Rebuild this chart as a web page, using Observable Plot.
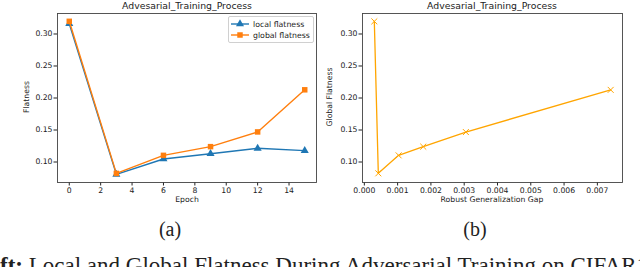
<!DOCTYPE html>
<html>
<head>
<meta charset="utf-8">
<script src="https://cdn.jsdelivr.net/npm/d3@7"></script>
<script src="https://cdn.jsdelivr.net/npm/@observablehq/plot@0.6"></script>
<style>
  html, body { margin: 0; padding: 0; background: #fff; }
  #wrap { position: relative; width: 640px; height: 267px; overflow: hidden; background: #fff; font-family: "DejaVu Sans", sans-serif; color: #222; }
  .abs { position: absolute; white-space: nowrap; line-height: 1; }
  .title { font-size: 9.3px; transform: translateX(-50%); }
  .lab { font-size: 7.7px; transform: translateX(-50%); }
  .ylab { font-size: 7.7px; transform: translate(-50%, -50%) rotate(-90deg); }
  .sub { font-family: "Liberation Serif", serif; font-size: 20px; transform: translateX(-50%); }
  .cap { font-family: "Liberation Serif", serif; font-size: 23px; left: 0; }
  .legend { position: absolute; border: 1px solid #d0d0d0; border-radius: 2px; background: #fff; }
</style>
</head>
<body>
<div id="wrap"></div>
<script>
// ---- data ----
const epochs = [0, 3, 6, 9, 12, 15];
const localFlatness = [0.316, 0.0807, 0.1047, 0.113, 0.1214, 0.1178];
const globalFlatness = [0.3198, 0.0822, 0.1104, 0.124, 0.147, 0.2128];
const genGap = [0.0003, 0.00042, 0.00103, 0.00177, 0.00305, 0.0074];
const gapFlatness = [0.3197, 0.0823, 0.1104, 0.124, 0.1468, 0.2127];
const epochTicks = [0, 2, 4, 6, 8, 10, 12, 14];
const flatTicks = [0.10, 0.15, 0.20, 0.25, 0.30];
const gapTicks = [0, 0.001, 0.002, 0.003, 0.004, 0.005, 0.006, 0.007];
const seriesNames = ["local flatness", "global flatness"];
const titleText = "Advesarial_Training_Process";

const BLUE = "#1f77b4", ORANGE = "#ff7f0e", GOLD = "#ffa500";
const wrap = document.getElementById("wrap");

const tableA = epochs.flatMap((e, i) => [
  {epoch: e, value: localFlatness[i], series: seriesNames[0]},
  {epoch: e, value: globalFlatness[i], series: seriesNames[1]}
]);
const tableB = genGap.map((g, i) => ({gap: g, value: gapFlatness[i]}));

const common = {
  width: 320, height: 200, marginTop: 13, marginBottom: 18,
  style: {fontFamily: "DejaVu Sans", fontSize: "7.7px", background: "transparent", color: "#222", overflow: "visible"}
};

const plotA = Plot.plot({
  ...common, marginLeft: 57, marginRight: 4,
  x: {domain: [-0.75, 15.75], ticks: epochTicks, tickFormat: "d", tickSize: 3.5, tickPadding: 1.5, label: null},
  y: {domain: [0.068, 0.332], ticks: flatTicks, tickFormat: ".2f", tickSize: 3.5, tickPadding: 1.5, label: null},
  marks: [
    Plot.line(tableA.filter(d => d.series === seriesNames[0]), {x: "epoch", y: "value", stroke: BLUE, strokeWidth: 1.4}),
    Plot.dot(tableA.filter(d => d.series === seriesNames[0]), {x: "epoch", y: "value", symbol: "triangle", r: 3.0, fill: BLUE}),
    Plot.line(tableA.filter(d => d.series === seriesNames[1]), {x: "epoch", y: "value", stroke: ORANGE, strokeWidth: 1.4}),
    Plot.dot(tableA.filter(d => d.series === seriesNames[1]), {x: "epoch", y: "value", symbol: "square", r: 3.1, fill: ORANGE}),
    Plot.frame({stroke: "#444", strokeWidth: 0.9})
  ]
});
plotA.style.position = "absolute"; plotA.style.left = "0px"; plotA.style.top = "0px";
wrap.appendChild(plotA);

const plotB = Plot.plot({
  ...common, marginLeft: 42, marginRight: 18,
  x: {domain: [-0.000055, 0.007755], ticks: gapTicks, tickFormat: ".3f", tickSize: 3.5, tickPadding: 1.5, label: null},
  y: {domain: [0.068, 0.332], ticks: flatTicks, tickFormat: ".2f", tickSize: 3.5, tickPadding: 1.5, label: null},
  marks: [
    Plot.line(tableB, {x: "gap", y: "value", stroke: GOLD, strokeWidth: 1.3}),
    Plot.dot(tableB, {x: "gap", y: "value", symbol: "times", r: 2.8, stroke: GOLD, strokeWidth: 1}),
    Plot.frame({stroke: "#444", strokeWidth: 0.9})
  ]
});
plotB.style.position = "absolute"; plotB.style.left = "320px"; plotB.style.top = "0px";
wrap.appendChild(plotB);

function addText(cls, text, left, top, html) {
  const d = document.createElement("div");
  d.className = "abs " + cls;
  if (html) d.innerHTML = html; else d.textContent = text;
  d.style.left = left + "px"; d.style.top = top + "px";
  wrap.appendChild(d);
  return d;
}
addText("title", titleText, 187, 1);
addText("title", titleText, 492, 1);
addText("lab", "Epoch", 187, 196);
addText("lab", "Robust Generalization Gap", 492, 196);
addText("ylab", "Flatness", 27, 97);
addText("ylab", "Global Flatness", 330, 97);
addText("sub", "(a)", 170, 219);
addText("sub", "(b)", 475, 219);
addText("cap", "", 0, 254, '<b>ft:</b> Local and Global Flatness During Adversarial Training on CIFAR10');

// legend
const leg = document.createElement("div");
leg.className = "legend";
leg.style.left = "228px"; leg.style.top = "16px"; leg.style.width = "84px"; leg.style.height = "25px";
wrap.appendChild(leg);
const lsvg = d3.select(leg).append("svg").attr("width", 84).attr("height", 25).style("position", "absolute").style("left", "0").style("top", "0");
const legItems = [
  {name: seriesNames[0], color: BLUE, sym: d3.symbolTriangle, size: 28},
  {name: seriesNames[1], color: ORANGE, sym: d3.symbolSquare, size: 30}
];
legItems.forEach((it, i) => {
  const cy = 7 + i * 11;
  lsvg.append("line").attr("x1", 2).attr("x2", 20).attr("y1", cy).attr("y2", cy).attr("stroke", it.color).attr("stroke-width", 1.4);
  lsvg.append("path").attr("d", d3.symbol(it.sym, it.size)()).attr("transform", `translate(11,${cy})`).attr("fill", it.color);
  lsvg.append("text").attr("x", 24).attr("y", cy).attr("dy", "0.35em").attr("font-family", "DejaVu Sans").attr("font-size", 7.8).attr("fill", "#222").text(it.name);
});
</script>
</body>
</html>
